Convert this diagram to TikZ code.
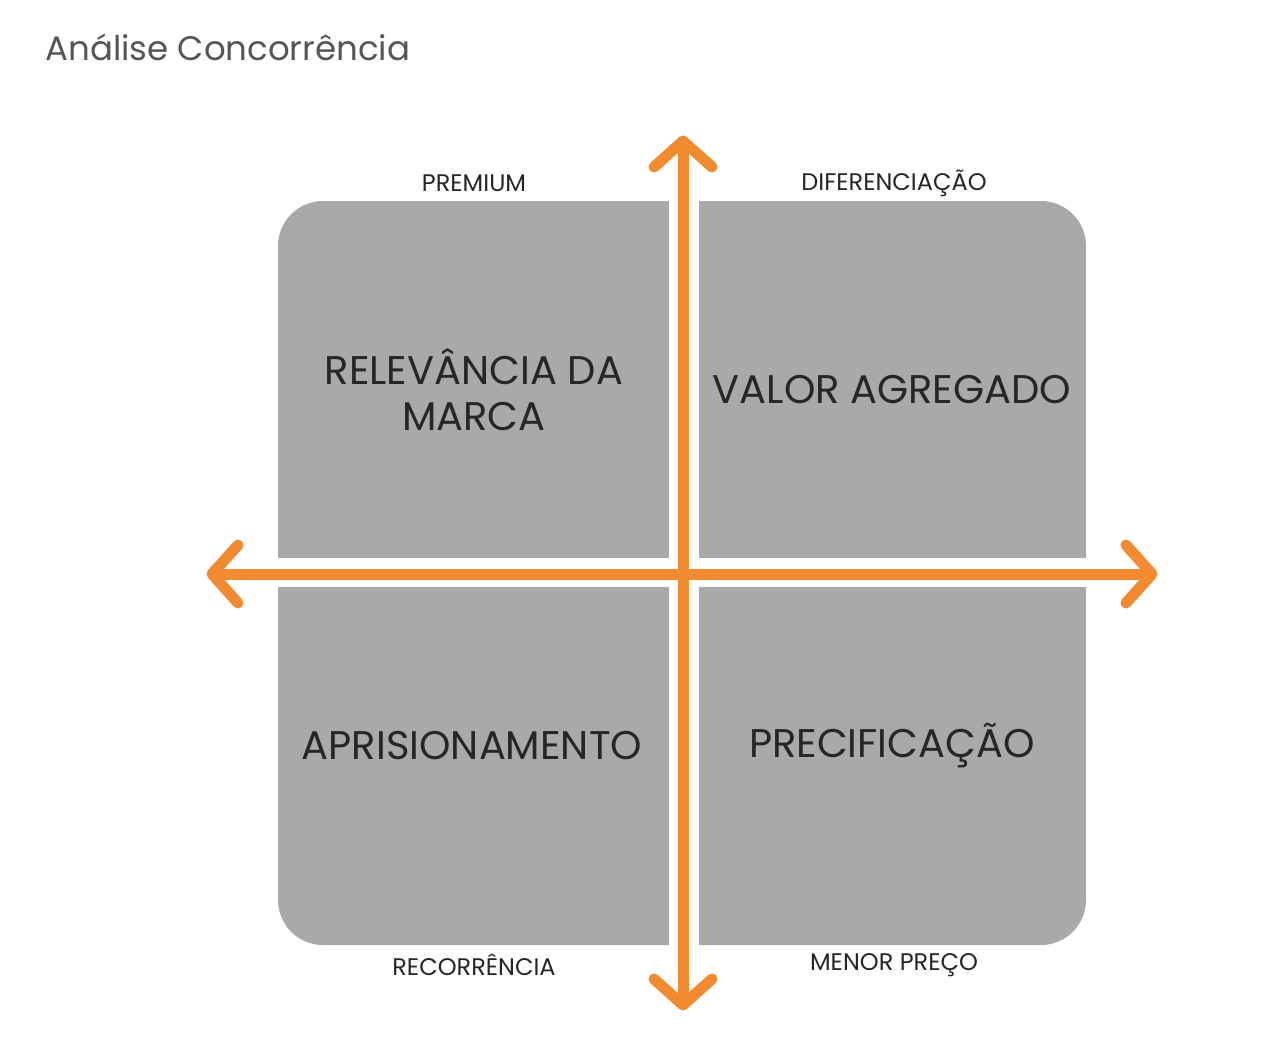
\documentclass[tikz,border=0pt]{standalone}
\usepackage{fontspec}
\setmainfont{Poppins}
\definecolor{qgray}{HTML}{A7A9AA}
\definecolor{axo}{HTML}{F28A30}
\definecolor{ttl}{HTML}{555555}
\begin{document}
\begin{tikzpicture}[x=1pt,y=-1pt,
  axis/.style={draw=axo,line width=11pt},
  chev/.style={draw=axo,line width=11pt,line cap=round,line join=round},
  big/.style={font=\fontsize{40}{46}\selectfont,text=black!85,align=center},
  small/.style={font=\fontsize{24}{28}\selectfont,text=black!85}]
\useasboundingbox (0,0) rectangle (1286,1037);
\fill[white] (0,0) rectangle (1286,1037);
\node[anchor=west,font=\fontsize{34}{40}\selectfont,text=ttl] (title) at (42,47) {Análise Concorrência};
\fill[qgray,rounded corners=45] (278,201) rectangle (1086,945);
\fill[white] (669,190) rectangle (699,955);
\fill[white] (268,558) rectangle (1096,587);
\node[big] (q1) at (474,390) {RELEVÂNCIA DA\\MARCA};
\node[big] (q2) at (892,390) {VALOR AGREGADO};
\node[big] (q3) at (472,746) {APRISIONAMENTO};
\node[big] (q4) at (892,746) {PRECIFICAÇÃO};
\node[small] (l1) at (474,183) {PREMIUM};
\node[small] (l2) at (894,183) {DIFERENCIAÇÃO};
\node[small] (l3) at (474,965) {RECORRÊNCIA};
\node[small] (l4) at (894,965) {MENOR PREÇO};
\coordinate (L) at (212,574);
\coordinate (R) at (1152,574);
\coordinate (T) at (683,141);
\coordinate (B) at (683,1005);
\draw[axis] (L) -- (R);
\draw[axis] (T) -- (B);
\draw[chev] ([shift={(26,-29)}]L) -- (L) -- ([shift={(26,29)}]L);
\draw[chev] ([shift={(-26,-29)}]R) -- (R) -- ([shift={(-26,29)}]R);
\draw[chev] ([shift={(-29,26)}]T) -- (T) -- ([shift={(29,26)}]T);
\draw[chev] ([shift={(-29,-26)}]B) -- (B) -- ([shift={(29,-26)}]B);
\end{tikzpicture}
\end{document}
